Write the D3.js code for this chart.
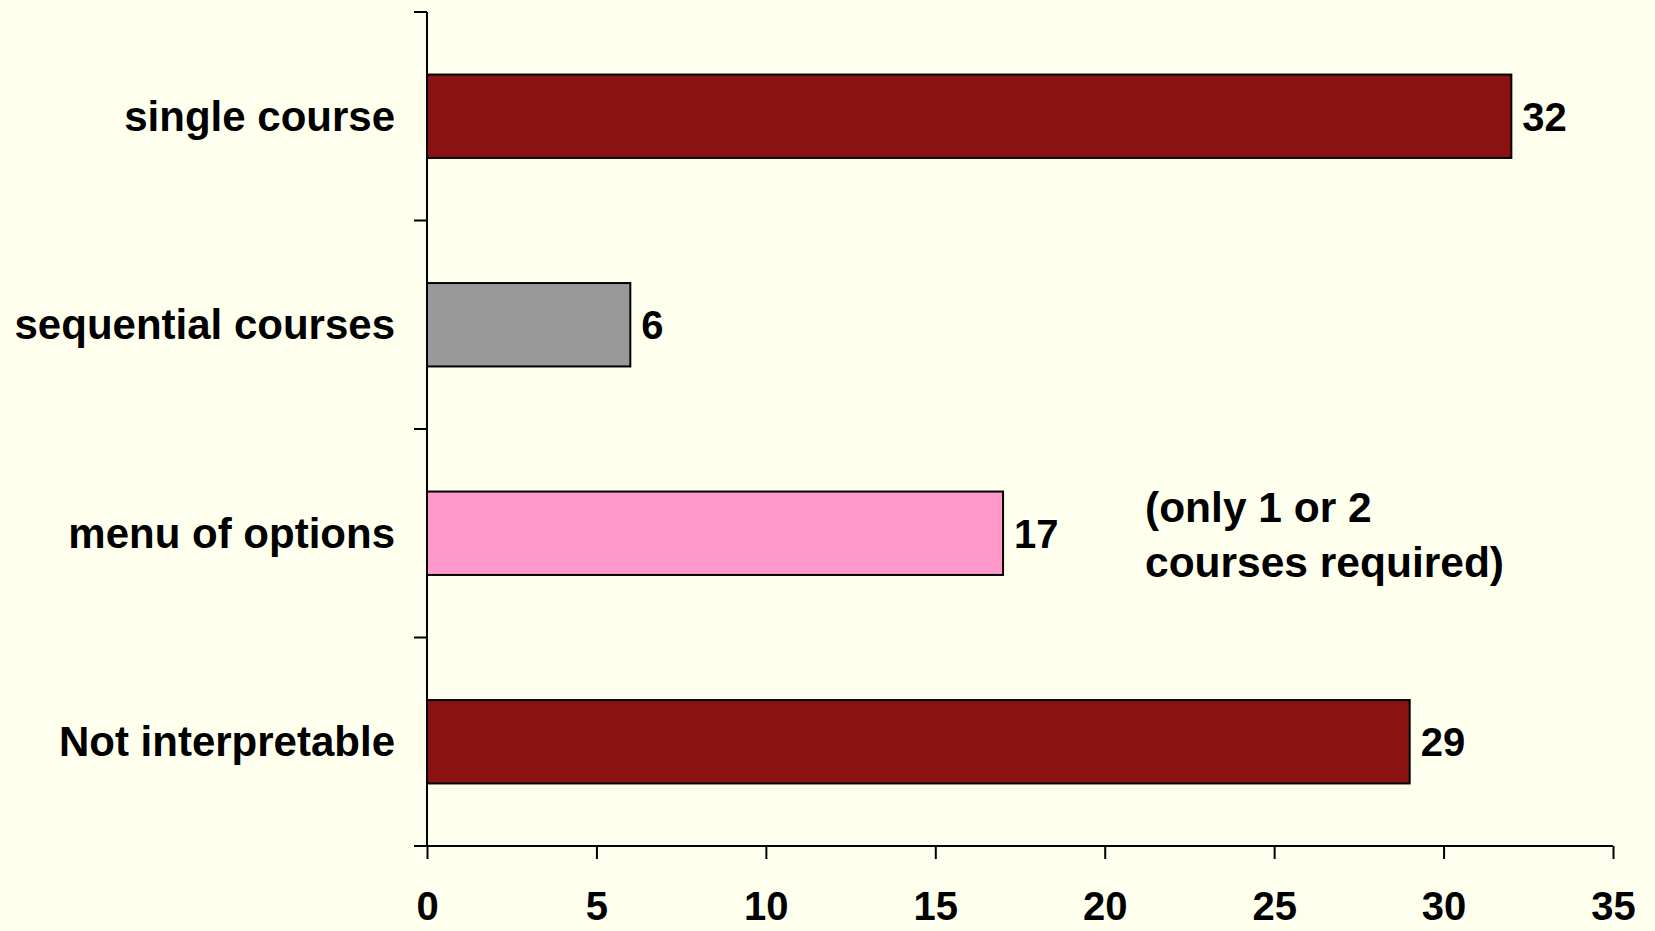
<!DOCTYPE html>
<html>
<head>
<meta charset="utf-8">
<script src="https://cdn.jsdelivr.net/npm/d3@7"></script>
<style>
  html, body { margin: 0; padding: 0; background: #FFFFEE; }
  svg { display: block; font-family: "Liberation Sans", Arial, sans-serif; font-weight: bold; }
</style>
</head>
<body>
<div class="graph"></div>
<script>
// data
var categories = ["single course", "sequential courses", "menu of options", "Not interpretable"];
var values = [32, 6, 17, 29];
var barColors = ["#8B1212", "#999999", "#FF99CC", "#8B1212"];
var xTicks = [0, 5, 10, 15, 20, 25, 30, 35];
var noteLines = ["(only 1 or 2", "courses required)"];

var svgWidth = 1655, svgHeight = 931;
var margin = {top: 12, right: 42, bottom: 85, left: 427};
var width = svgWidth - margin.left - margin.right;
var height = svgHeight - margin.top - margin.bottom;

var svg = d3.select("div.graph").append("svg")
    .attr("width", svgWidth)
    .attr("height", svgHeight);

svg.append("rect")
    .attr("width", svgWidth)
    .attr("height", svgHeight)
    .attr("fill", "#FFFFEE");

var g = svg.append("g")
    .attr("transform", "translate(" + margin.left + "," + margin.top + ")");

var x = d3.scaleLinear().domain([0, 35]).range([0, width]);
var y = d3.scaleBand().domain(categories).range([0, height])
    .paddingInner(0.6).paddingOuter(0.3);
var yEdge = d3.scaleLinear().domain([0, categories.length]).range([0, height]);

// bars
g.selectAll("rect.bar")
    .data(values)
    .enter().append("rect")
    .attr("class", "bar")
    .attr("x", x(0))
    .attr("y", function (d, i) { return y(categories[i]); })
    .attr("width", function (d) { return x(d) - x(0); })
    .attr("height", y.bandwidth())
    .attr("fill", function (d, i) { return barColors[i]; })
    .attr("stroke", "black")
    .attr("stroke-width", 2);

// value labels
g.selectAll("text.val")
    .data(values)
    .enter().append("text")
    .attr("class", "val")
    .attr("x", function (d) { return x(d) + 11; })
    .attr("y", function (d, i) { return y(categories[i]) + y.bandwidth() / 2; })
    .attr("dy", "0.36em")
    .attr("font-size", 40)
    .attr("fill", "black")
    .text(function (d) { return d; });

// x axis
var xAxis = g.append("g")
    .attr("transform", "translate(0," + height + ")")
    .call(d3.axisBottom(x).tickValues(xTicks).tickSize(13).tickPadding(33).tickSizeOuter(0));
xAxis.select(".domain").attr("stroke", "black").attr("stroke-width", 2)
    .attr("d", "M-13,0H" + width);
xAxis.selectAll(".tick line").attr("stroke", "black").attr("stroke-width", 2);
xAxis.selectAll(".tick text")
    .attr("font-size", 40)
    .attr("font-family", "'Liberation Sans', Arial, sans-serif")
    .attr("font-weight", "bold")
    .attr("fill", "black");

// y axis line with ticks on the category boundaries
g.append("line")
    .attr("x1", 0).attr("x2", 0)
    .attr("y1", 0).attr("y2", height)
    .attr("stroke", "black").attr("stroke-width", 2);
g.selectAll("line.ytick")
    .data(d3.range(categories.length))
    .enter().append("line")
    .attr("class", "ytick")
    .attr("x1", -13).attr("x2", 0)
    .attr("y1", function (d) { return yEdge(d); })
    .attr("y2", function (d) { return yEdge(d); })
    .attr("stroke", "black").attr("stroke-width", 2);

// category labels
g.selectAll("text.cat")
    .data(categories)
    .enter().append("text")
    .attr("class", "cat")
    .attr("x", -32)
    .attr("y", function (d) { return y(d) + y.bandwidth() / 2; })
    .attr("dy", "0.35em")
    .attr("text-anchor", "end")
    .attr("font-size", 42)
    .attr("fill", "black")
    .text(function (d) { return d; });

// note next to the menu bar
g.append("text")
    .attr("x", 718)
    .attr("y", 510)
    .attr("font-size", 42.5)
    .attr("fill", "black")
    .selectAll("tspan")
    .data(noteLines)
    .enter().append("tspan")
    .attr("x", 718)
    .attr("dy", function (d, i) { return i === 0 ? 0 : 55; })
    .text(function (d) { return d; });
</script>
</body>
</html>
